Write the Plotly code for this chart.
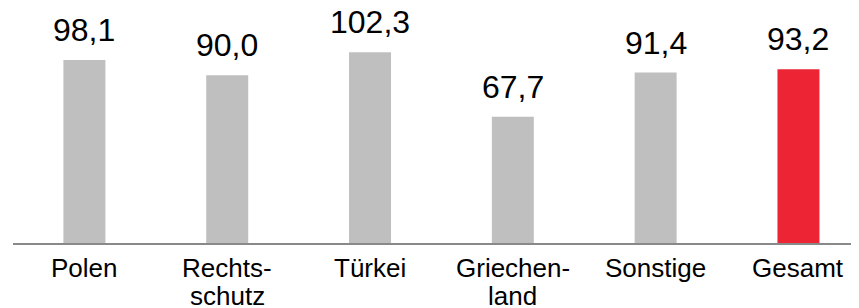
import plotly.graph_objects as go

categories = ["Polen", "Rechtsschutz", "Türkei", "Griechenland", "Sonstige", "Gesamt"]
label_line1 = ["Polen", "Rechts-", "Türkei", "Griechen-", "Sonstige", "Gesamt"]
label_line2 = ["", "schutz", "", "land", "", ""]
values = [98.1, 90.0, 102.3, 67.7, 91.4, 93.2]
value_labels = ["98,1", "90,0", "102,3", "67,7", "91,4", "93,2"]
bar_colors = ["#BFBFBF", "#BFBFBF", "#BFBFBF", "#BFBFBF", "#BFBFBF", "#ED2433"]

FONT = "Liberation Sans, Arial, sans-serif"

fig = go.Figure()
fig.add_trace(go.Bar(
    x=categories, y=values, marker=dict(color=bar_colors, line=dict(width=0)),
    width=0.294, hoverinfo="skip",
))

annotations = []
for c, v, t in zip(categories, values, value_labels):
    annotations.append(dict(x=c, y=v, xref="x", yref="y", text=t, showarrow=False,
                            yanchor="bottom", xanchor="center", yshift=10,
                            font=dict(family=FONT, size=32, color="#000000")))
for c, l1, l2 in zip(categories, label_line1, label_line2):
    annotations.append(dict(x=c, y=0, xref="x", yref="paper", text=l1, showarrow=False,
                            yanchor="top", xanchor="center", yshift=-8,
                            font=dict(family=FONT, size=26, color="#000000")))
    if l2:
        annotations.append(dict(x=c, y=0, xref="x", yref="paper", text=l2, showarrow=False,
                                yanchor="top", xanchor="center", yshift=-36,
                                font=dict(family=FONT, size=26, color="#000000")))

fig.update_layout(
    width=851, height=300,
    margin=dict(l=5, r=0, t=0, b=65),
    paper_bgcolor="white", plot_bgcolor="white",
    showlegend=False,
    annotations=annotations,
    xaxis=dict(type="category", range=[-0.5, 5.424], showline=True, linecolor="#898989",
               linewidth=2, showticklabels=False, ticks="", showgrid=False, zeroline=False),
    yaxis=dict(range=[0, 126], visible=False, showgrid=False, zeroline=False),
)

fig.write_html("out.html")
